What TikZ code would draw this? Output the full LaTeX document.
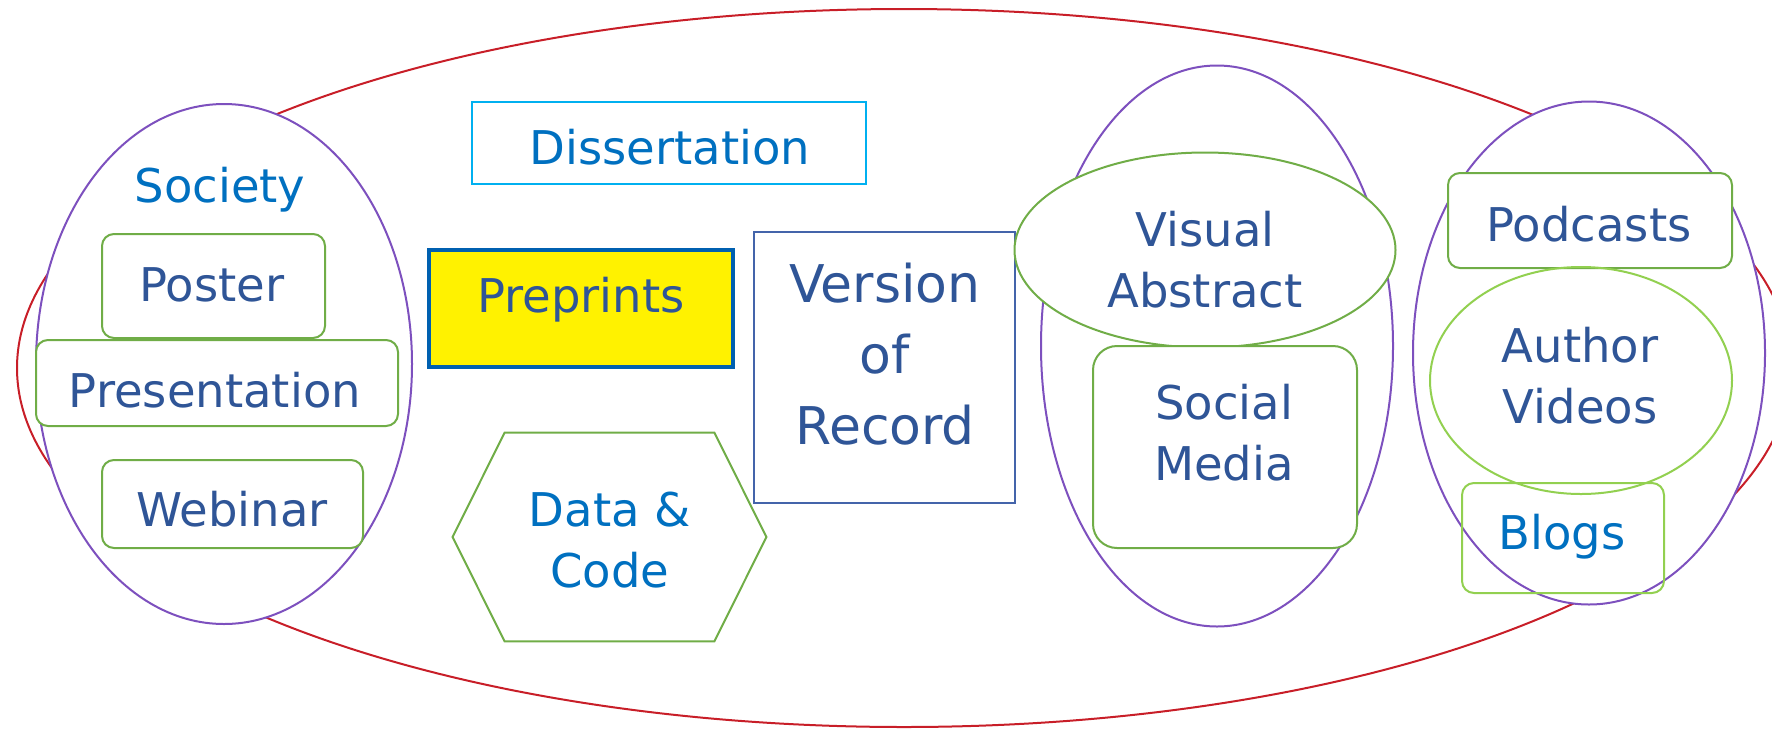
\documentclass[tikz,border=0pt]{standalone}
\usepackage{fontspec}
\setmainfont{DejaVu Sans}
\usetikzlibrary{shapes.geometric}
\definecolor{redc}{RGB}{200,30,40}
\definecolor{purp}{RGB}{125,80,190}
\definecolor{grn}{RGB}{112,173,71}
\definecolor{lgrn}{RGB}{146,208,80}
\definecolor{dblue}{RGB}{47,85,151}
\definecolor{lblue}{RGB}{0,112,192}
\definecolor{cyanb}{RGB}{0,176,240}
\definecolor{vorb}{RGB}{68,100,170}
\definecolor{preb}{RGB}{0,96,176}
\begin{document}
\begin{tikzpicture}[x=0.5pt,y=-0.5pt,
  txt/.style={font=\fontsize{23.25}{30.5}\selectfont, text=dblue, align=center, inner sep=0pt},
  ltxt/.style={txt, text=lblue},
  grp/.style={draw=purp, line width=1pt, fill=white, ellipse, inner sep=0pt},
  gbox/.style={draw=grn, line width=1pt, fill=white, rounded corners=6pt, inner sep=0pt},
  lbox/.style={draw=lgrn, line width=1pt, rounded corners=6pt, inner sep=0pt},
]
\useasboundingbox (0,0) rectangle (1772,729);
\clip (0,0) rectangle (1772,729);
% outer ellipse
\node[draw=redc, line width=1pt, ellipse, inner sep=0pt, minimum width=887pt, minimum height=359pt] (outer) at (904,368) {};
% group ellipses
\node[grp, minimum width=188pt, minimum height=260pt] (society) at (224,364) {};
\node[grp, minimum width=176pt, minimum height=280.5pt] (midgrp) at (1217,346) {};
\node[grp, minimum width=176pt, minimum height=251.5pt] (rightgrp) at (1589,353) {};
% society group
\node[ltxt] (societyT) at (220,190) {Society};
\node[gbox, minimum width=111.5pt, minimum height=52pt] (poster) at (213.5,286) {};
\node[txt] (posterT) at (212,285) {Poster};
\node[gbox, minimum width=181pt, minimum height=43pt] (presentation) at (217,383) {};
\node[txt] (presentationT) at (215,390) {Presentation};
\node[gbox, minimum width=130.5pt, minimum height=44pt] (webinar) at (232.5,504) {};
\node[txt] (webinarT) at (232,509) {Webinar};
% middle column
\node[draw=cyanb, line width=1pt, fill=white, minimum width=197pt, minimum height=41pt, inner sep=0pt] (diss) at (669,143) {};
\node[ltxt] (dissT) at (670,147) {Dissertation};
\node[draw=preb, line width=2pt, fill=yellow, minimum width=152pt, minimum height=58.5pt, inner sep=0pt] (pre) at (581,308.5) {};
\node[txt] (preT) at (581,300) {Preprints};
\node[draw=vorb, line width=1pt, fill=white, minimum width=130.5pt, minimum height=135.5pt, inner sep=0pt] (vor) at (884.5,367.5) {};
\node[txt, font=\fontsize{26}{35.5}\selectfont] (vorT) at (885,354) {Version\\of\\Record};
\node[minimum width=156.5pt, minimum height=104pt, inner sep=0pt] (data) at (609.5,537) {};
\draw[draw=grn, line width=1pt] (data.west) -- ([xshift=26pt]data.north west) -- ([xshift=-26pt]data.north east) -- (data.east) -- ([xshift=-26pt]data.south east) -- ([xshift=26pt]data.south west) -- cycle;
\node[ltxt] (dataT) at (610,540) {Data \&\\Code};
% visual / social
\node[draw=grn, line width=1pt, fill=white, ellipse, inner sep=0pt, minimum width=190.5pt, minimum height=97.5pt] (visual) at (1205,250) {};
\node[txt] (visualT) at (1205,260) {Visual\\Abstract};
\node[gbox, rounded corners=12pt, minimum width=132pt, minimum height=101pt] (social) at (1225,447) {};
\node[txt] (socialT) at (1224,433) {Social\\Media};
% right group
\node[gbox, minimum width=142pt, minimum height=47.5pt] (podcasts) at (1590,220.5) {};
\node[txt] (podcastsT) at (1589,224) {Podcasts};
\node[draw=lgrn, line width=1pt, ellipse, inner sep=0pt, minimum width=151pt, minimum height=113.5pt] (author) at (1581,380.5) {};
\node[txt] (authorT) at (1580,376) {Author\\Videos};
\node[lbox, minimum width=101pt, minimum height=55pt] (blogs) at (1563,538) {};
\node[ltxt] (blogsT) at (1562,537) {Blogs};
\end{tikzpicture}
\end{document}
